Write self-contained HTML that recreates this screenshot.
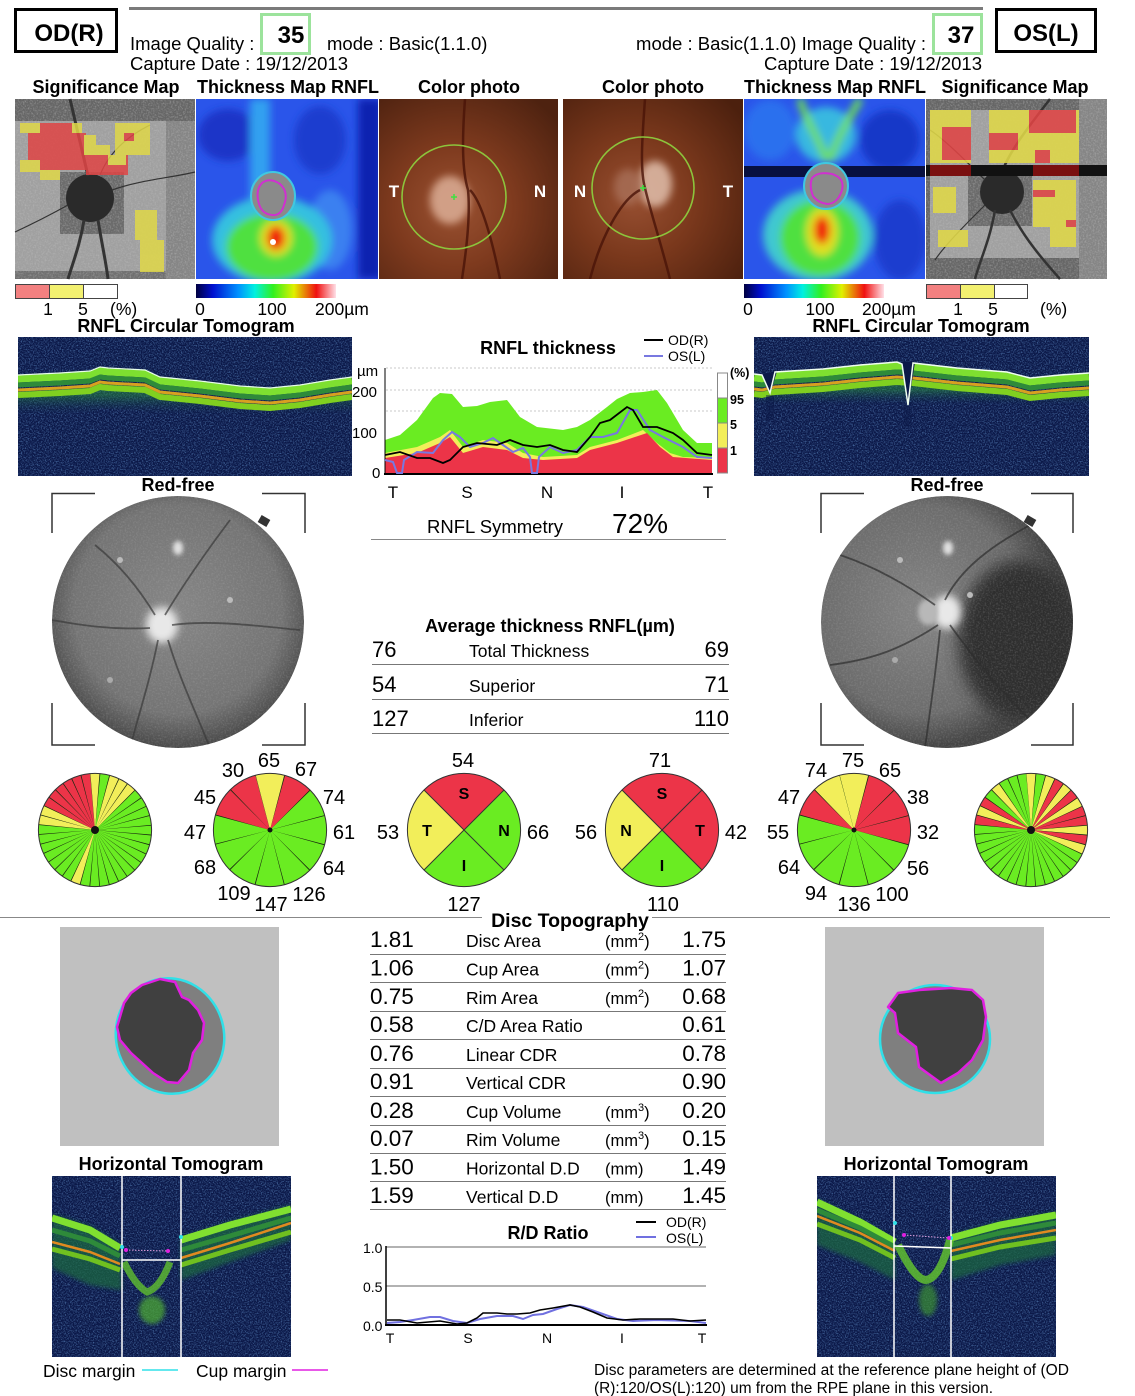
<!DOCTYPE html>
<html><head><meta charset="utf-8"><style>
html,body{margin:0;padding:0;background:#fff;}
svg{display:block;font-family:"Liberation Sans",Arial,sans-serif;}
</style></head><body>
<svg width="1135" height="1396" viewBox="0 0 1135 1396" xmlns="http://www.w3.org/2000/svg">
<defs>
 <filter id="b2" x="-50%" y="-50%" width="200%" height="200%"><feGaussianBlur stdDeviation="2"/></filter>
 <filter id="b4" x="-50%" y="-50%" width="200%" height="200%"><feGaussianBlur stdDeviation="4"/></filter>
 <filter id="b8" x="-50%" y="-50%" width="200%" height="200%"><feGaussianBlur stdDeviation="8"/></filter>
 <filter id="spk" x="0" y="0" width="100%" height="100%">
  <feTurbulence type="fractalNoise" baseFrequency="0.75" numOctaves="2" seed="7"/>
  <feColorMatrix type="matrix" values="0 0 0 0 0.2  0 0 0 0 0.45  0 0 0 0 0.85  2.4 0 0 0 -1.05"/>
 </filter>
 <filter id="spkG" x="0" y="0" width="100%" height="100%">
  <feTurbulence type="fractalNoise" baseFrequency="0.6" numOctaves="2" seed="3"/>
  <feColorMatrix type="matrix" values="0 0 0 0 0.55  0 0 0 0 0.55  0 0 0 0 0.55  2 0 0 0 -0.85"/>
 </filter>
 <linearGradient id="cbar" x1="0" x2="1" y1="0" y2="0">
  <stop offset="0" stop-color="#000040"/><stop offset="0.12" stop-color="#0010d0"/>
  <stop offset="0.3" stop-color="#0090ff"/><stop offset="0.42" stop-color="#00f0e0"/>
  <stop offset="0.55" stop-color="#30f020"/><stop offset="0.7" stop-color="#e0f000"/>
  <stop offset="0.86" stop-color="#f01010"/><stop offset="1" stop-color="#ffe0e8"/>
 </linearGradient>
 <radialGradient id="cpL" cx="0.42" cy="0.6" r="0.75">
  <stop offset="0" stop-color="#9a5232"/><stop offset="0.45" stop-color="#7e3a1e"/><stop offset="1" stop-color="#4e2210"/>
 </radialGradient>
 <radialGradient id="cpR" cx="0.4" cy="0.55" r="0.75">
  <stop offset="0" stop-color="#985032"/><stop offset="0.45" stop-color="#7a381c"/><stop offset="1" stop-color="#4c200e"/>
 </radialGradient>
 <radialGradient id="rfL" cx="0.5" cy="0.45" r="0.55">
  <stop offset="0" stop-color="#868686"/><stop offset="0.75" stop-color="#747474"/><stop offset="1" stop-color="#4a4a4a"/>
 </radialGradient>
 <radialGradient id="rfR" cx="0.4" cy="0.45" r="0.55">
  <stop offset="0" stop-color="#848484"/><stop offset="0.75" stop-color="#6c6c6c"/><stop offset="1" stop-color="#444"/>
 </radialGradient>
 <linearGradient id="tomoFade" x1="0" y1="0" x2="0" y2="1">
  <stop offset="0" stop-color="#2a9a3a" stop-opacity="0.8"/><stop offset="1" stop-color="#0c1a4e" stop-opacity="0"/>
 </linearGradient>
 <clipPath id="cTL"><rect x="196" y="99" width="182" height="180"/></clipPath>
 <clipPath id="cTR"><rect x="744" y="99" width="181" height="180"/></clipPath>
 <clipPath id="cCL"><rect x="379" y="99" width="179" height="180"/></clipPath>
 <clipPath id="cCR"><rect x="563" y="99" width="180" height="180"/></clipPath>
 <clipPath id="cRL"><circle cx="178" cy="622" r="126"/></clipPath>
 <clipPath id="cRR"><circle cx="947" cy="622" r="126"/></clipPath>
 <clipPath id="cOL"><rect x="18" y="337" width="334" height="139"/></clipPath>
 <clipPath id="cOR"><rect x="754" y="337" width="335" height="139"/></clipPath>
 <clipPath id="cHL"><rect x="52" y="1176" width="239" height="181"/></clipPath>
 <clipPath id="cHR"><rect x="817" y="1176" width="239" height="181"/></clipPath>
</defs>

<!-- HEADER -->
<rect x="15.5" y="9.5" width="101" height="42" fill="none" stroke="#000" stroke-width="3"/>
<text x="69" y="41" font-size="24" font-weight="bold" text-anchor="middle">OD(R)</text>
<rect x="129" y="7" width="854" height="3" fill="#7a7a7a"/>
<text x="130" y="50" font-size="18.5">Image Quality :</text>
<rect x="261.5" y="14.5" width="48" height="39" fill="none" stroke="#9ce39c" stroke-width="3"/>
<text x="291" y="43" font-size="24" font-weight="bold" text-anchor="middle">35</text>
<text x="327" y="50" font-size="18.5">mode : Basic(1.1.0)</text>
<text x="130" y="70" font-size="18.5">Capture Date : 19/12/2013</text>
<text x="926" y="50" font-size="18.5" text-anchor="end">mode : Basic(1.1.0) Image Quality :</text>
<rect x="933.5" y="14.5" width="48" height="39" fill="none" stroke="#9ce39c" stroke-width="3"/>
<text x="961" y="43" font-size="24" font-weight="bold" text-anchor="middle">37</text>
<rect x="996.5" y="9.5" width="99" height="42" fill="none" stroke="#000" stroke-width="3"/>
<text x="1046" y="41" font-size="24" font-weight="bold" text-anchor="middle">OS(L)</text>
<text x="982" y="70" font-size="18.5" text-anchor="end">Capture Date : 19/12/2013</text>

<!-- TITLES -->
<g font-size="18" font-weight="bold" text-anchor="middle">
<text x="106" y="93">Significance Map</text>
<text x="288" y="93">Thickness Map RNFL</text>
<text x="469" y="93">Color photo</text>
<text x="653" y="93">Color photo</text>
<text x="835" y="93">Thickness Map RNFL</text>
<text x="1015" y="93">Significance Map</text>
</g>

<!-- SIGNIFICANCE MAP L -->
<rect x="15" y="99" width="180" height="180" fill="#666"/>
<rect x="15" y="121" width="151" height="150" fill="#a0a0a0"/>
<rect x="166" y="121" width="29" height="158" fill="#858585"/>
<rect x="15" y="271" width="151" height="8" fill="#707070"/>
<rect x="60" y="172" width="64" height="62" fill="#6a6a6a"/>
<rect x="15" y="99" width="180" height="180" filter="url(#spkG)" opacity="0.5"/>
<circle cx="90" cy="198" r="24" fill="#2a2a2a"/>
<g stroke="#333" fill="none">
 <path d="M88,176 C82,150 76,125 70,99" stroke-width="3"/>
 <path d="M84,220 C80,245 73,262 68,279" stroke-width="3"/>
 <path d="M98,220 C102,245 106,262 108,279" stroke-width="3"/>
 <path d="M68,205 C50,215 30,225 15,232" stroke-width="1.2"/>
 <path d="M112,190 C140,180 170,178 195,172" stroke-width="1.2"/>
 <path d="M100,175 C110,150 130,135 150,125" stroke-width="1.2"/>
</g>
<g opacity="0.85">
 <rect x="20" y="123" width="20" height="10" fill="#e0d848"/>
 <rect x="40" y="123" width="32" height="12" fill="#e04545"/>
 <rect x="72" y="123" width="10" height="12" fill="#e0d848"/>
 <rect x="28" y="133" width="58" height="27" fill="#e04545"/>
 <rect x="84" y="135" width="12" height="20" fill="#e0d848"/>
 <rect x="40" y="160" width="52" height="10" fill="#e04545"/>
 <rect x="86" y="155" width="42" height="20" fill="#e04545"/>
 <rect x="20" y="160" width="20" height="12" fill="#e0d848"/>
 <rect x="40" y="170" width="20" height="10" fill="#e0d848"/>
 <rect x="96" y="145" width="14" height="10" fill="#e0d848"/>
 <rect x="115" y="123" width="35" height="32" fill="#e0d848"/>
 <rect x="124" y="133" width="10" height="8" fill="#e04545"/>
 <rect x="108" y="155" width="18" height="10" fill="#e0d848"/>
 <rect x="135" y="210" width="22" height="30" fill="#e0d848"/>
 <rect x="140" y="240" width="24" height="32" fill="#e0d848"/>
</g>

<!-- THICKNESS MAP L -->
<g clip-path="url(#cTL)">
 <rect x="196" y="99" width="182" height="180" fill="#2a55ea"/>
 <g filter="url(#b4)">
  <rect x="358" y="99" width="24" height="180" fill="#1020b0"/>
  <ellipse cx="228" cy="135" rx="30" ry="26" fill="#1a35c8"/>
  <ellipse cx="320" cy="140" rx="26" ry="34" fill="#1d3ccf"/>
  <ellipse cx="330" cy="230" rx="22" ry="40" fill="#3a80f0"/>
  <rect x="250" y="99" width="20" height="100" fill="#30a0f0"/>
  <ellipse cx="272" cy="240" rx="60" ry="44" fill="#34c0e0"/>
  <ellipse cx="272" cy="247" rx="46" ry="34" fill="#50e040"/>
  <ellipse cx="276" cy="238" rx="16" ry="18" fill="#e0e020"/>
  <ellipse cx="276" cy="238" rx="9" ry="12" fill="#f02010"/>
 </g>
 <circle cx="273" cy="242" r="3" fill="#fff"/>
 <ellipse cx="273" cy="196" rx="22" ry="24" fill="#8a8a8a" stroke="#40c8e0" stroke-width="2"/>
 <path d="M262,183 Q270,177 280,184 Q289,192 284,205 Q281,216 272,215 Q262,214 259,204 Q255,190 262,183Z" fill="none" stroke="#d030d0" stroke-width="2"/>
</g>

<!-- COLOR PHOTO L -->
<g clip-path="url(#cCL)">
 <rect x="379" y="99" width="179" height="180" fill="url(#cpL)"/>
 <ellipse cx="450" cy="200" rx="20" ry="24" fill="#d8a890" filter="url(#b4)" opacity="0.9"/>
 <g stroke="#4a1408" fill="none" stroke-width="2.5" opacity="0.8">
  <path d="M465,99 C462,140 462,170 468,190 C470,210 468,240 462,279"/>
  <path d="M470,190 C480,200 490,230 500,279"/>
 </g>
 <circle cx="454" cy="197" r="52" fill="none" stroke="#8cc43c" stroke-width="1.6"/>
 <path d="M451,197 h6 M454,194 v6" stroke="#40e040" stroke-width="1.5"/>
 <text x="394" y="197" font-size="17" font-weight="bold" fill="#fff" text-anchor="middle">T</text>
 <text x="540" y="197" font-size="17" font-weight="bold" fill="#fff" text-anchor="middle">N</text>
</g>

<!-- COLOR PHOTO R -->
<g clip-path="url(#cCR)">
 <rect x="563" y="99" width="180" height="180" fill="url(#cpR)"/>
 <ellipse cx="655" cy="184" rx="17" ry="23" fill="#dcb8a4" filter="url(#b4)" opacity="0.9"/>
 <ellipse cx="628" cy="187" rx="14" ry="18" fill="#a87058" filter="url(#b4)" opacity="0.8"/>
 <g stroke="#4a1408" fill="none" stroke-width="2.5" opacity="0.8">
  <path d="M645,99 C642,140 640,170 645,188 C650,210 660,240 670,279"/>
  <path d="M640,190 C620,200 600,240 590,279"/>
 </g>
 <circle cx="643" cy="188" r="51" fill="none" stroke="#8cc43c" stroke-width="1.6"/>
 <path d="M640,188 h6 M643,185 v6" stroke="#40e040" stroke-width="1.5"/>
 <text x="580" y="197" font-size="17" font-weight="bold" fill="#fff" text-anchor="middle">N</text>
 <text x="728" y="197" font-size="17" font-weight="bold" fill="#fff" text-anchor="middle">T</text>
</g>

<!-- THICKNESS MAP R -->
<g clip-path="url(#cTR)">
 <rect x="744" y="99" width="181" height="180" fill="#2a55ea"/>
 <g filter="url(#b4)">
  <ellipse cx="770" cy="130" rx="26" ry="30" fill="#2a70ee"/>
  <ellipse cx="890" cy="140" rx="30" ry="30" fill="#1838c8"/>
  <ellipse cx="900" cy="240" rx="26" ry="40" fill="#1d3ccf"/>
  <ellipse cx="826" cy="135" rx="30" ry="28" fill="#38b8e0"/>
  <path d="M826,160 C820,140 805,120 800,99 M830,160 C838,135 850,118 860,99" stroke="#70e050" stroke-width="7" fill="none"/>
  <ellipse cx="818" cy="235" rx="55" ry="46" fill="#40c8d0"/>
  <ellipse cx="820" cy="238" rx="40" ry="38" fill="#50e040"/>
  <ellipse cx="822" cy="232" rx="16" ry="24" fill="#e0e020"/>
  <ellipse cx="822" cy="230" rx="8" ry="14" fill="#f02010"/>
 </g>
 <rect x="744" y="166" width="181" height="11" fill="#081040"/>
 <ellipse cx="826" cy="186" rx="22" ry="23" fill="#8a8a8a" stroke="#40c8e0" stroke-width="2"/>
 <path d="M812,178 Q818,171 832,174 Q845,178 842,190 Q838,203 828,204 Q818,203 813,196 Q809,186 812,178Z" fill="none" stroke="#d030d0" stroke-width="2"/>
</g>

<!-- SIGNIFICANCE MAP R -->
<rect x="926" y="99" width="181" height="180" fill="#666"/>
<rect x="930" y="110" width="149" height="148" fill="#a0a0a0"/>
<rect x="1079" y="99" width="28" height="180" fill="#858585"/>
<rect x="968" y="176" width="64" height="50" fill="#6a6a6a"/>
<rect x="926" y="99" width="181" height="180" filter="url(#spkG)" opacity="0.5"/>
<circle cx="1002" cy="192" r="22" fill="#2a2a2a"/>
<g stroke="#333" fill="none">
 <path d="M1002,172 C1010,150 1030,125 1050,99" stroke-width="2.5"/>
 <path d="M995,210 C990,240 980,260 975,279" stroke-width="2.5"/>
 <path d="M1010,210 C1025,240 1045,262 1060,279" stroke-width="2.5"/>
 <path d="M985,180 C965,160 945,140 930,130" stroke-width="1.2"/>
 <path d="M985,205 C965,225 945,245 935,260" stroke-width="1.2"/>
</g>
<g opacity="0.88">
 <rect x="930" y="110" width="41" height="53" fill="#e0d848"/>
 <rect x="942" y="127" width="29" height="33" fill="#e04545"/>
 <rect x="989" y="110" width="90" height="53" fill="#e0d848"/>
 <rect x="989" y="133" width="29" height="17" fill="#e04545"/>
 <rect x="1029" y="110" width="47" height="23" fill="#e04545"/>
 <rect x="1035" y="150" width="15" height="13" fill="#e04545"/>
 <rect x="933" y="187" width="23" height="26" fill="#e0d848"/>
 <rect x="938" y="230" width="30" height="17" fill="#e0d848"/>
 <rect x="1033" y="180" width="43" height="47" fill="#e0d848"/>
 <rect x="1033" y="190" width="22" height="7" fill="#e04545"/>
 <rect x="1050" y="227" width="26" height="20" fill="#e0d848"/>
 <rect x="1066" y="220" width="10" height="7" fill="#e04545"/>
</g>
<rect x="926" y="165" width="181" height="11" fill="#111"/>
<rect x="930" y="165" width="41" height="11" fill="#7a1010"/>
<rect x="1033" y="165" width="46" height="11" fill="#7a1010"/>

<!-- LEGENDS -->
<g stroke="#444" stroke-width="1">
 <rect x="15.5" y="284.5" width="34" height="14" fill="#f28080"/>
 <rect x="49.5" y="284.5" width="34" height="14" fill="#f2f070"/>
 <rect x="83.5" y="284.5" width="34" height="14" fill="#fff"/>
 <rect x="926.5" y="284.5" width="34" height="14" fill="#f28080"/>
 <rect x="960.5" y="284.5" width="34" height="14" fill="#f2f070"/>
 <rect x="994.5" y="284.5" width="33" height="14" fill="#fff"/>
</g>
<rect x="196" y="284" width="140" height="14" fill="url(#cbar)"/>
<rect x="744" y="284" width="140" height="14" fill="url(#cbar)"/>
<g font-size="17.5">
 <text x="48" y="315" text-anchor="middle">1</text>
 <text x="83" y="315" text-anchor="middle">5</text>
 <text x="110" y="315">(%)</text>
 <text x="200" y="315" text-anchor="middle">0</text>
 <text x="272" y="315" text-anchor="middle">100</text>
 <text x="315" y="315">200µm</text>
 <text x="748" y="315" text-anchor="middle">0</text>
 <text x="820" y="315" text-anchor="middle">100</text>
 <text x="862" y="315">200µm</text>
 <text x="958" y="315" text-anchor="middle">1</text>
 <text x="993" y="315" text-anchor="middle">5</text>
 <text x="1040" y="315">(%)</text>
</g>
<text x="186" y="332" font-size="18" font-weight="bold" text-anchor="middle">RNFL Circular Tomogram</text>
<text x="921" y="332" font-size="18" font-weight="bold" text-anchor="middle">RNFL Circular Tomogram</text>

<!-- RNFL CHART -->
<g font-size="15">
 <text x="357" y="376">µm</text>
 <text x="352" y="397">200</text>
 <text x="352" y="438">100</text>
 <text x="372" y="478">0</text>
</g>
<g stroke="#c8c8c8" stroke-dasharray="2 2" stroke-width="1">
 <line x1="386" y1="368" x2="712" y2="368"/>
 <line x1="386" y1="390" x2="712" y2="390"/>
 <line x1="386" y1="411" x2="712" y2="411"/>
</g>
<path d="M385,474 L385,440 L400,435 L417,420 L433,398 L440,393 L452,394 L463,407 L477,406 L490,402 L507,400 L520,417 L537,427 L563,430 L577,427 L590,420 L607,407 L617,399 L630,393 L643,392 L657,390 L667,403 L683,430 L697,443 L712,443 L712,474 Z" fill="#6aec22"/>
<path d="M385,474 L385,453 L417,447 L440,437 L450,430 L463,447 L483,440 L507,443 L523,453 L543,457 L577,455 L590,447 L617,440 L643,430 L657,443 L670,453 L683,457 L712,458 L712,474 Z" fill="#f2ee5a"/>
<path d="M385,474 L385,458 L417,453 L440,443 L450,437 L463,453 L483,447 L507,450 L523,458 L543,460 L577,458 L590,450 L617,443 L647,433 L660,447 L673,457 L712,460 L712,474 Z" fill="#ec3448"/>
<line x1="385" y1="368" x2="385" y2="474" stroke="#000" stroke-width="1"/>
<line x1="384" y1="474" x2="713" y2="474" stroke="#000" stroke-width="2"/>
<polyline fill="none" stroke="#7878e0" stroke-width="2" points="385,460 393,462 397,473 402,473 404,460 417,452 433,453 443,440 452,432 460,437 470,447 483,443 493,438 503,445 513,452 523,448 530,457 532,473 537,473 539,457 550,447 563,453 577,450 590,437 603,437 617,433 630,410 637,410 650,430 663,437 683,447 697,457 712,458"/>
<polyline fill="none" stroke="#000" stroke-width="1.8" points="385,455 400,452 417,458 430,458 443,463 450,460 463,447 477,443 497,445 510,440 523,445 537,447 550,445 563,450 577,452 590,437 600,423 610,420 627,407 633,410 643,427 657,427 673,433 683,440 697,453 712,455"/>
<g stroke="#888" stroke-width="1">
 <rect x="717.5" y="373" width="10" height="25" fill="#fff"/>
 <rect x="717.5" y="398" width="10" height="25" fill="#6aec22"/>
 <rect x="717.5" y="423" width="10" height="25" fill="#f2ee5a"/>
 <rect x="717.5" y="448" width="10" height="25" fill="#ec3448"/>
</g>
<g font-size="12.5" font-weight="bold">
 <text x="730" y="377">(%)</text>
 <text x="730" y="404">95</text>
 <text x="730" y="429">5</text>
 <text x="730" y="455">1</text>
</g>
<text x="548" y="354" font-size="18" font-weight="bold" text-anchor="middle">RNFL thickness</text>
<line x1="644" y1="340" x2="663" y2="340" stroke="#000" stroke-width="2"/>
<line x1="644" y1="356" x2="663" y2="356" stroke="#7878e0" stroke-width="2"/>
<text x="668" y="345" font-size="14">OD(R)</text>
<text x="668" y="361" font-size="14">OS(L)</text>
<g font-size="17" text-anchor="middle">
 <text x="393" y="498">T</text><text x="467" y="498">S</text><text x="547" y="498">N</text><text x="622" y="498">I</text><text x="708" y="498">T</text>
</g>
<text x="427" y="533" font-size="18.5">RNFL Symmetry</text>
<text x="612" y="533" font-size="28">72%</text>
<line x1="371" y1="539.5" x2="726" y2="539.5" stroke="#888" stroke-width="1"/>

<!-- CIRCULAR TOMOGRAM L -->
<g clip-path="url(#cOL)">
 <rect x="18" y="337" width="334" height="139" fill="#0b1848"/>
 <rect x="18" y="337" width="334" height="139" filter="url(#spk)" opacity="0.55"/>
 <polyline id="sL" fill="none" points="18,375 60,373 90,371 100,367 108,368 145,370 160,377 200,381 240,386 270,388 300,385 330,380 352,377"/>
 <use href="#sL" transform="translate(0,28)" stroke="url(#tomoFade)" stroke-width="26" opacity="0.55"/>
 <use href="#sL" transform="translate(0,4)" stroke="#7ee030" stroke-width="7"/>
 <use href="#sL" transform="translate(0,10)" stroke="#2e8a3a" stroke-width="5"/>
 <use href="#sL" transform="translate(0,15)" stroke="#d8a020" stroke-width="3"/>
 <use href="#sL" transform="translate(0,20)" stroke="#80d020" stroke-width="6"/>
 <use href="#sL" transform="translate(0,0)" stroke="#e8ffe8" stroke-width="1.2"/>
</g>

<!-- CIRCULAR TOMOGRAM R -->
<g clip-path="url(#cOR)">
 <rect x="754" y="337" width="335" height="139" fill="#0b1848"/>
 <rect x="754" y="337" width="335" height="139" filter="url(#spk)" opacity="0.55"/>
 <polyline id="sR" fill="none" points="754,374 762,375 775,372 823,369 860,365 897,362 913,363 957,368 1007,372 1030,378 1060,375 1089,373"/>
 <use href="#sR" transform="translate(0,28)" stroke="url(#tomoFade)" stroke-width="26" opacity="0.55"/>
 <use href="#sR" transform="translate(0,4)" stroke="#7ee030" stroke-width="7"/>
 <use href="#sR" transform="translate(0,10)" stroke="#2e8a3a" stroke-width="5"/>
 <use href="#sR" transform="translate(0,15)" stroke="#d8a020" stroke-width="3"/>
 <use href="#sR" transform="translate(0,20)" stroke="#80d020" stroke-width="6"/>
 <polygon points="761,374 770,395 777,371" fill="#0b1848"/>
 <polygon points="901,362 908,407 915,362" fill="#0b1848"/>
 <rect x="766" y="395" width="8" height="25" fill="#0b1848" opacity="0.45"/>
 <rect x="904" y="407" width="8" height="20" fill="#0b1848" opacity="0.45"/>
 <polyline fill="none" stroke="#f0fff0" stroke-width="1.5" points="754,374 762,375 770,393 775,372 823,369 860,365 897,362 902,364 908,405 913,363 957,368 1007,372 1030,378 1060,375 1089,373"/>
</g>

<!-- RED-FREE -->
<text x="178" y="491" font-size="18" font-weight="bold" text-anchor="middle">Red-free</text>
<text x="947" y="491" font-size="18" font-weight="bold" text-anchor="middle">Red-free</text>
<g fill="none" stroke="#333" stroke-width="1.5">
 <path d="M52,533 V493.5 H95 M262,493.5 H305 V533 M52,703 V745 H95 M262,745 H305 V703"/>
 <path d="M821,533 V493.5 H864 M1031,493.5 H1073 V533 M821,703 V745 H864 M1031,745 H1073 V703"/>
</g>
<g clip-path="url(#cRL)">
 <circle cx="178" cy="622" r="126" fill="url(#rfL)"/>
 <circle cx="178" cy="622" r="126" filter="url(#spkG)" opacity="0.25"/>
 <ellipse cx="162" cy="625" rx="16" ry="18" fill="#e8e8e8" filter="url(#b4)"/>
 <ellipse cx="178" cy="548" rx="5" ry="7" fill="#e0e0e0" filter="url(#b2)"/>
 <g fill="none" stroke="#3a3a3a" stroke-width="1.8" opacity="0.7">
  <path d="M165,615 C180,590 200,560 230,520"/>
  <path d="M155,615 C140,590 120,565 95,545"/>
  <path d="M158,640 C150,680 140,710 130,748"/>
  <path d="M168,640 C180,680 195,710 210,748"/>
  <path d="M150,628 C110,630 80,625 52,620"/>
  <path d="M172,625 C210,620 250,625 300,630"/>
 </g>
 <circle cx="120" cy="560" r="3" fill="#bbb"/><circle cx="230" cy="600" r="3" fill="#bbb"/><circle cx="110" cy="680" r="3" fill="#aaa"/>
</g>
<g clip-path="url(#cRR)">
 <circle cx="947" cy="622" r="126" fill="url(#rfR)"/>
 <ellipse cx="1020" cy="640" rx="62" ry="80" fill="#2e2e2e" filter="url(#b8)"/>
 <circle cx="947" cy="622" r="126" filter="url(#spkG)" opacity="0.25"/>
 <ellipse cx="947" cy="612" rx="14" ry="17" fill="#e8e8e8" filter="url(#b4)"/>
 <ellipse cx="928" cy="612" rx="10" ry="13" fill="#b8b8b8" filter="url(#b2)"/>
 <ellipse cx="948" cy="548" rx="5" ry="7" fill="#e0e0e0" filter="url(#b2)"/>
 <g fill="none" stroke="#2e2e2e" stroke-width="1.8" opacity="0.7">
  <path d="M945,600 C960,570 990,545 1040,520"/>
  <path d="M935,605 C900,580 870,565 840,555"/>
  <path d="M938,625 C900,650 870,660 830,665"/>
  <path d="M950,625 C975,660 1000,690 1030,720"/>
  <path d="M940,630 C935,680 930,710 925,748"/>
 </g>
 <circle cx="900" cy="560" r="3" fill="#bbb"/><circle cx="970" cy="595" r="3" fill="#bbb"/><circle cx="895" cy="660" r="3" fill="#aaa"/>
</g>
<rect x="1025" y="517" width="10" height="8" fill="#333" transform="rotate(30 1030 521)"/>
<rect x="259" y="517" width="10" height="8" fill="#333" transform="rotate(30 264 521)"/>

<!-- AVERAGE THICKNESS TABLE -->
<text x="550" y="632" font-size="18" font-weight="bold" text-anchor="middle">Average thickness RNFL(µm)</text>
<g font-size="22">
 <text x="372" y="657">76</text><text x="729" y="657" text-anchor="end">69</text>
 <text x="372" y="692">54</text><text x="729" y="692" text-anchor="end">71</text>
 <text x="372" y="726">127</text><text x="729" y="726" text-anchor="end">110</text>
</g>
<g font-size="17.5">
 <text x="469" y="657">Total Thickness</text>
 <text x="469" y="692">Superior</text>
 <text x="469" y="726">Inferior</text>
</g>
<g stroke="#777" stroke-width="1">
 <line x1="372" y1="664.5" x2="729" y2="664.5"/>
 <line x1="372" y1="699.5" x2="729" y2="699.5"/>
 <line x1="372" y1="733.5" x2="729" y2="733.5"/>
</g>

<!-- PIES -->
<g transform="translate(95,830)">
 <g transform="rotate(-95)" fill="none" stroke-width="56">
  <circle r="28.648" stroke="#6aec22"/>
  <circle r="28.648" stroke="#f2ee5a" stroke-dasharray="5 175" stroke-dashoffset="0"/>
  <circle r="28.648" stroke="#f2ee5a" stroke-dasharray="15 165" stroke-dashoffset="-10"/>
  <circle r="28.648" stroke="#f2ee5a" stroke-dasharray="5 175" stroke-dashoffset="-100"/>
  <circle r="28.648" stroke="#f2ee5a" stroke-dasharray="10 170" stroke-dashoffset="-140"/>
  <circle r="28.648" stroke="#ec3448" stroke-dasharray="30 150" stroke-dashoffset="-150"/>
  <circle r="28.648" stroke="#1a2a10" stroke-dasharray="0.4 4.6" stroke-dashoffset="0.2"/>
 </g>
 <circle r="56.6" fill="none" stroke="#333" stroke-width="1"/>
 <circle r="4" fill="#111"/>
</g>
<g transform="translate(270,830)">
 <g transform="rotate(-105)" fill="none" stroke-width="56">
  <circle r="28.648" stroke="#6aec22"/>
  <circle r="28.648" stroke="#f2ee5a" stroke-dasharray="15 165" stroke-dashoffset="0"/>
  <circle r="28.648" stroke="#ec3448" stroke-dasharray="15 165" stroke-dashoffset="-15"/>
  <circle r="28.648" stroke="#ec3448" stroke-dasharray="30 150" stroke-dashoffset="-150"/>
  <circle r="28.648" stroke="#1a2a10" stroke-dasharray="0.45 14.55" stroke-dashoffset="0.225"/>
 </g>
 <circle r="56.6" fill="none" stroke="#333" stroke-width="1"/>
 <circle r="2.5" fill="#111"/>
</g>
<g transform="translate(464,830)">
 <g transform="rotate(-135)" fill="none" stroke-width="56">
  <circle r="28.648" stroke="#6aec22"/>
  <circle r="28.648" stroke="#ec3448" stroke-dasharray="45 135" stroke-dashoffset="0"/>
  <circle r="28.648" stroke="#f2ee5a" stroke-dasharray="45 135" stroke-dashoffset="-135"/>
 </g>
 <g stroke="#333" stroke-width="1"><line x1="-40" y1="-40" x2="40" y2="40"/><line x1="40" y1="-40" x2="-40" y2="40"/></g>
 <circle r="56.6" fill="none" stroke="#333" stroke-width="1"/>
 <g font-size="16" font-weight="bold" text-anchor="middle">
  <text x="0" y="-31">S</text><text x="-37" y="6">T</text><text x="40" y="6">N</text><text x="0" y="41">I</text>
 </g>
</g>
<g transform="translate(662,830)">
 <g transform="rotate(-135)" fill="none" stroke-width="56">
  <circle r="28.648" stroke="#6aec22"/>
  <circle r="28.648" stroke="#ec3448" stroke-dasharray="90 90" stroke-dashoffset="0"/>
  <circle r="28.648" stroke="#f2ee5a" stroke-dasharray="45 135" stroke-dashoffset="-135"/>
 </g>
 <g stroke="#333" stroke-width="1"><line x1="-40" y1="-40" x2="40" y2="40"/><line x1="40" y1="-40" x2="-40" y2="40"/></g>
 <circle r="56.6" fill="none" stroke="#333" stroke-width="1"/>
 <g font-size="16" font-weight="bold" text-anchor="middle">
  <text x="0" y="-31">S</text><text x="-36" y="6">N</text><text x="38" y="6">T</text><text x="0" y="41">I</text>
 </g>
</g>
<g transform="translate(854,830)">
 <g transform="rotate(-105)" fill="none" stroke-width="56">
  <circle r="28.648" stroke="#6aec22"/>
  <circle r="28.648" stroke="#f2ee5a" stroke-dasharray="15 165" stroke-dashoffset="0"/>
  <circle r="28.648" stroke="#f2ee5a" stroke-dasharray="15 165" stroke-dashoffset="-165"/>
  <circle r="28.648" stroke="#ec3448" stroke-dasharray="45 135" stroke-dashoffset="-15"/>
  <circle r="28.648" stroke="#ec3448" stroke-dasharray="15 165" stroke-dashoffset="-150"/>
  <circle r="28.648" stroke="#1a2a10" stroke-dasharray="0.45 14.55" stroke-dashoffset="0.225"/>
 </g>
 <circle r="56.6" fill="none" stroke="#333" stroke-width="1"/>
 <circle r="2.5" fill="#111"/>
</g>
<g transform="translate(1031,830)">
 <g transform="rotate(-95)" fill="none" stroke-width="56">
  <circle r="28.648" stroke="#6aec22"/>
  <circle r="28.648" stroke="#f2ee5a" stroke-dasharray="5 175" stroke-dashoffset="0"/>
  <circle r="28.648" stroke="#f2ee5a" stroke-dasharray="5 175" stroke-dashoffset="-10"/>
  <circle r="28.648" stroke="#f2ee5a" stroke-dasharray="5 175" stroke-dashoffset="-20"/>
  <circle r="28.648" stroke="#f2ee5a" stroke-dasharray="5 175" stroke-dashoffset="-30"/>
  <circle r="28.648" stroke="#f2ee5a" stroke-dasharray="5 175" stroke-dashoffset="-45"/>
  <circle r="28.648" stroke="#f2ee5a" stroke-dasharray="5 175" stroke-dashoffset="-55"/>
  <circle r="28.648" stroke="#f2ee5a" stroke-dasharray="5 175" stroke-dashoffset="-145"/>
  <circle r="28.648" stroke="#f2ee5a" stroke-dasharray="5 175" stroke-dashoffset="-160"/>
  <circle r="28.648" stroke="#ec3448" stroke-dasharray="5 175" stroke-dashoffset="-15"/>
  <circle r="28.648" stroke="#ec3448" stroke-dasharray="5 175" stroke-dashoffset="-25"/>
  <circle r="28.648" stroke="#ec3448" stroke-dasharray="10 170" stroke-dashoffset="-35"/>
  <circle r="28.648" stroke="#ec3448" stroke-dasharray="5 175" stroke-dashoffset="-50"/>
  <circle r="28.648" stroke="#ec3448" stroke-dasharray="5 175" stroke-dashoffset="-140"/>
  <circle r="28.648" stroke="#ec3448" stroke-dasharray="5 175" stroke-dashoffset="-150"/>
  <circle r="28.648" stroke="#1a2a10" stroke-dasharray="0.4 4.6" stroke-dashoffset="0.2"/>
 </g>
 <circle r="56.6" fill="none" stroke="#333" stroke-width="1"/>
 <circle r="4" fill="#111"/>
</g>
<g font-size="20" text-anchor="middle">
 <text x="233" y="777">30</text><text x="269" y="767">65</text><text x="306" y="776">67</text>
 <text x="334" y="804">74</text><text x="344" y="839">61</text><text x="334" y="875">64</text>
 <text x="309" y="901">126</text><text x="271" y="911">147</text><text x="234" y="900">109</text>
 <text x="205" y="874">68</text><text x="195" y="839">47</text><text x="205" y="804">45</text>
 <text x="463" y="767">54</text><text x="388" y="839">53</text><text x="538" y="839">66</text><text x="464" y="911">127</text>
 <text x="660" y="767">71</text><text x="586" y="839">56</text><text x="736" y="839">42</text><text x="663" y="911">110</text>
 <text x="816" y="777">74</text><text x="853" y="767">75</text><text x="890" y="777">65</text>
 <text x="918" y="804">38</text><text x="928" y="839">32</text><text x="918" y="875">56</text>
 <text x="892" y="901">100</text><text x="854" y="911">136</text><text x="816" y="900">94</text>
 <text x="789" y="874">64</text><text x="778" y="839">55</text><text x="789" y="804">47</text>
</g>

<!-- DISC TOPOGRAPHY -->
<line x1="0" y1="917.5" x2="482" y2="917.5" stroke="#888" stroke-width="1"/>
<line x1="652" y1="917.5" x2="1110" y2="917.5" stroke="#888" stroke-width="1"/>
<text x="570" y="927" font-size="19.5" font-weight="bold" text-anchor="middle">Disc Topography</text>

<g font-size="22.5">
 <text x="370" y="947">1.81</text><text x="726" y="947" text-anchor="end">1.75</text>
 <text x="370" y="975.5">1.06</text><text x="726" y="975.5" text-anchor="end">1.07</text>
 <text x="370" y="1004">0.75</text><text x="726" y="1004" text-anchor="end">0.68</text>
 <text x="370" y="1032">0.58</text><text x="726" y="1032" text-anchor="end">0.61</text>
 <text x="370" y="1061">0.76</text><text x="726" y="1061" text-anchor="end">0.78</text>
 <text x="370" y="1089">0.91</text><text x="726" y="1089" text-anchor="end">0.90</text>
 <text x="370" y="1118">0.28</text><text x="726" y="1118" text-anchor="end">0.20</text>
 <text x="370" y="1146">0.07</text><text x="726" y="1146" text-anchor="end">0.15</text>
 <text x="370" y="1174.5">1.50</text><text x="726" y="1174.5" text-anchor="end">1.49</text>
 <text x="370" y="1203">1.59</text><text x="726" y="1203" text-anchor="end">1.45</text>
</g>
<g font-size="17.5">
 <text x="466" y="947">Disc Area</text>
 <text x="466" y="975.5">Cup Area</text>
 <text x="466" y="1004">Rim Area</text>
 <text x="466" y="1032">C/D Area Ratio</text>
 <text x="466" y="1061">Linear CDR</text>
 <text x="466" y="1089">Vertical CDR</text>
 <text x="466" y="1118">Cup Volume</text>
 <text x="466" y="1146">Rim Volume</text>
 <text x="466" y="1174.5">Horizontal D.D</text>
 <text x="466" y="1203">Vertical D.D</text>
</g>
<g font-size="16.5">
 <text x="605" y="947">(mm<tspan font-size="11" dy="-7">2</tspan><tspan dy="7">)</tspan></text>
 <text x="605" y="975.5">(mm<tspan font-size="11" dy="-7">2</tspan><tspan dy="7">)</tspan></text>
 <text x="605" y="1004">(mm<tspan font-size="11" dy="-7">2</tspan><tspan dy="7">)</tspan></text>
 <text x="605" y="1118">(mm<tspan font-size="11" dy="-7">3</tspan><tspan dy="7">)</tspan></text>
 <text x="605" y="1146">(mm<tspan font-size="11" dy="-7">3</tspan><tspan dy="7">)</tspan></text>
 <text x="605" y="1174.5">(mm)</text>
 <text x="605" y="1203">(mm)</text>
</g>
<g stroke="#777" stroke-width="1">
 <line x1="370" y1="954.5" x2="726" y2="954.5"/>
 <line x1="370" y1="982.5" x2="726" y2="982.5"/>
 <line x1="370" y1="1011.5" x2="726" y2="1011.5"/>
 <line x1="370" y1="1039.5" x2="726" y2="1039.5"/>
 <line x1="370" y1="1068.5" x2="726" y2="1068.5"/>
 <line x1="370" y1="1096.5" x2="726" y2="1096.5"/>
 <line x1="370" y1="1125.5" x2="726" y2="1125.5"/>
 <line x1="370" y1="1153.5" x2="726" y2="1153.5"/>
 <line x1="370" y1="1181.5" x2="726" y2="1181.5"/>
 <line x1="370" y1="1209.5" x2="726" y2="1209.5"/>
</g>

<!-- DISC IMAGES -->
<rect x="60" y="927" width="219" height="219" fill="#c0c0c0"/>
<ellipse cx="170" cy="1036" rx="54" ry="58" transform="rotate(-15 170 1036)" fill="#7f7f7f" stroke="#30e0e8" stroke-width="2.5"/>
<path d="M160,979 L175,982 L182,997 L189,1000 L198,1010 L204,1023 L202,1040 L193,1053 L189,1070 L178,1083 L167,1082 L153,1073 L131,1053 L120,1040 L117,1027 L124,1003 L131,993 L142,985 Z" fill="#404040" stroke="#e020e0" stroke-width="2.5" stroke-linejoin="round"/>
<rect x="825" y="927" width="219" height="219" fill="#c0c0c0"/>
<ellipse cx="935" cy="1039" rx="55" ry="54" fill="#7f7f7f" stroke="#30e0e8" stroke-width="2.5"/>
<path d="M888,1007 L898,993 L919,990 L951,988 L972,990 L983,1000 L986,1017 L983,1040 L972,1060 L958,1073 L941,1083 L919,1067 L916,1047 L898,1033 L895,1013 Z" fill="#404040" stroke="#e020e0" stroke-width="2.5" stroke-linejoin="round"/>

<!-- HORIZONTAL TOMOGRAMS -->
<text x="171" y="1170" font-size="18" font-weight="bold" text-anchor="middle">Horizontal Tomogram</text>
<text x="936" y="1170" font-size="18" font-weight="bold" text-anchor="middle">Horizontal Tomogram</text>
<g clip-path="url(#cHL)">
 <rect x="52" y="1176" width="239" height="181" fill="#0b1848"/>
 <rect x="52" y="1176" width="239" height="181" filter="url(#spk)" opacity="0.55"/>
 <polygon points="52,1214 90,1226 120,1244 122,1290 90,1285 52,1268" fill="#1f6a40" opacity="0.7" filter="url(#b2)"/>
 <polygon points="181,1238 230,1222 291,1205 291,1240 230,1262 181,1280" fill="#1f6a40" opacity="0.7" filter="url(#b2)"/>
 <path d="M52,1218 L90,1230 L120,1248" stroke="#80e030" stroke-width="7" fill="none"/>
 <path d="M52,1230 L90,1241 L120,1256" stroke="#2e8a3a" stroke-width="5" fill="none"/>
 <path d="M52,1242 L90,1252 L120,1264" stroke="#e08a20" stroke-width="2.5" fill="none"/>
 <path d="M52,1249 L90,1259 L120,1270" stroke="#70c020" stroke-width="5" fill="none"/>
 <path d="M181,1240 L230,1225 L291,1209" stroke="#80e030" stroke-width="7" fill="none"/>
 <path d="M181,1250 L230,1236 L291,1218" stroke="#2e8a3a" stroke-width="5" fill="none"/>
 <path d="M181,1258 L230,1243 L291,1223" stroke="#e08a20" stroke-width="2.5" fill="none"/>
 <path d="M181,1265 L230,1250 L291,1232" stroke="#70c020" stroke-width="5" fill="none"/>
 <path d="M124,1262 Q135,1285 147,1292 Q160,1288 170,1262" stroke="#60c030" stroke-width="7" fill="none" opacity="0.8"/>
 <ellipse cx="152" cy="1310" rx="13" ry="14" fill="#50b030" opacity="0.7" filter="url(#b2)"/>
 <g stroke="#fff" stroke-width="1.5">
  <line x1="122" y1="1176" x2="122" y2="1357"/>
  <line x1="181" y1="1176" x2="181" y2="1357"/>
  <line x1="122" y1="1260" x2="181" y2="1260"/>
 </g>
 <line x1="126" y1="1250" x2="168" y2="1251" stroke="#e0a0e0" stroke-dasharray="1.5 1.5" stroke-width="1"/>
 <circle cx="122" cy="1247" r="2" fill="#30e0e8"/><circle cx="181" cy="1237" r="2" fill="#30e0e8"/>
 <circle cx="126" cy="1250" r="2" fill="#e020e0"/><circle cx="168" cy="1251" r="2" fill="#e020e0"/>
</g>
<g clip-path="url(#cHR)">
 <rect x="817" y="1176" width="239" height="181" fill="#0b1848"/>
 <rect x="817" y="1176" width="239" height="181" filter="url(#spk)" opacity="0.55"/>
 <polygon points="817,1199 860,1220 895,1240 895,1280 860,1262 817,1245" fill="#1f6a40" opacity="0.7" filter="url(#b2)"/>
 <polygon points="951,1235 1000,1222 1056,1212 1056,1255 1000,1265 951,1280" fill="#1f6a40" opacity="0.7" filter="url(#b2)"/>
 <path d="M817,1202 L860,1222 L895,1242" stroke="#80e030" stroke-width="7" fill="none"/>
 <path d="M817,1210 L860,1228 L895,1247" stroke="#2e8a3a" stroke-width="5" fill="none"/>
 <path d="M817,1216 L860,1233 L895,1251" stroke="#e08a20" stroke-width="2.5" fill="none"/>
 <path d="M817,1224 L860,1240 L895,1258" stroke="#70c020" stroke-width="5" fill="none"/>
 <path d="M951,1238 L1000,1225 L1056,1215" stroke="#80e030" stroke-width="7" fill="none"/>
 <path d="M951,1245 L1000,1233 L1056,1223" stroke="#2e8a3a" stroke-width="5" fill="none"/>
 <path d="M951,1251 L1000,1240 L1056,1230" stroke="#e08a20" stroke-width="2.5" fill="none"/>
 <path d="M951,1259 L1000,1247 L1056,1238" stroke="#70c020" stroke-width="5" fill="none"/>
 <path d="M898,1245 Q915,1280 926,1280 Q940,1278 950,1240" stroke="#60c030" stroke-width="8" fill="none" opacity="0.85"/>
 <ellipse cx="928" cy="1300" rx="9" ry="16" fill="#3a9030" opacity="0.7" filter="url(#b2)"/>
 <g stroke="#fff" stroke-width="1.5">
  <line x1="894" y1="1176" x2="894" y2="1357"/>
  <line x1="951" y1="1176" x2="951" y2="1357"/>
  <line x1="894" y1="1246" x2="951" y2="1248"/>
 </g>
 <line x1="904" y1="1235" x2="949" y2="1238" stroke="#e0a0e0" stroke-dasharray="1.5 1.5" stroke-width="1"/>
 <circle cx="895" cy="1223" r="2" fill="#30e0e8"/><circle cx="951" cy="1238" r="2" fill="#30e0e8"/>
 <circle cx="904" cy="1235" r="2" fill="#e020e0"/><circle cx="949" cy="1238" r="2" fill="#e020e0"/>
</g>
<text x="43" y="1377" font-size="17.5">Disc margin</text>
<line x1="142" y1="1370" x2="178" y2="1370" stroke="#30e0e8" stroke-width="1.5"/>
<text x="196" y="1377" font-size="17.5">Cup margin</text>
<line x1="292" y1="1370" x2="328" y2="1370" stroke="#e020e0" stroke-width="1.5"/>

<!-- R/D RATIO -->
<text x="548" y="1239" font-size="18" font-weight="bold" text-anchor="middle">R/D Ratio</text>
<line x1="636" y1="1222" x2="656" y2="1222" stroke="#000" stroke-width="2"/>
<line x1="636" y1="1237" x2="656" y2="1237" stroke="#7070e0" stroke-width="2"/>
<text x="666" y="1227" font-size="14">OD(R)</text>
<text x="666" y="1243" font-size="14">OS(L)</text>
<g font-size="14">
 <text x="363" y="1253">1.0</text><text x="363" y="1292">0.5</text><text x="363" y="1331">0.0</text>
</g>
<line x1="386" y1="1247" x2="706" y2="1247" stroke="#999" stroke-width="1.5"/>
<line x1="386" y1="1286" x2="706" y2="1286" stroke="#999" stroke-width="1.5"/>
<line x1="386" y1="1246" x2="386" y2="1326" stroke="#000" stroke-width="1.5"/>
<polyline fill="none" stroke="#7070e0" stroke-width="2" points="387,1323 400,1322 413,1320 430,1317 440,1317 453,1321 467,1323 480,1319 497,1316 513,1316 523,1319 533,1315 543,1314 557,1309 570,1305 583,1307 600,1313 617,1319 633,1321 657,1320 690,1321 706,1323"/>
<polyline fill="none" stroke="#000" stroke-width="1.6" points="387,1320 400,1320 417,1323 440,1321 457,1324 467,1323 477,1318 483,1313 497,1313 507,1314 517,1314 530,1313 540,1310 553,1308 570,1305 580,1307 593,1312 607,1318 623,1320 640,1319 657,1319 673,1319 690,1321 706,1320"/>
<line x1="385" y1="1325" x2="707" y2="1325" stroke="#000" stroke-width="2"/>
<g font-size="14" text-anchor="middle">
 <text x="390" y="1343">T</text><text x="468" y="1343">S</text><text x="547" y="1343">N</text><text x="622" y="1343">I</text><text x="702" y="1343">T</text>
</g>

<text x="594" y="1375" font-size="15.5" textLength="475" lengthAdjust="spacingAndGlyphs">Disc parameters are determined at the reference plane height of (OD</text>
<text x="594" y="1393" font-size="15.5" textLength="399" lengthAdjust="spacingAndGlyphs">(R):120/OS(L):120) um from the RPE plane in this version.</text>
</svg>
</body></html>
